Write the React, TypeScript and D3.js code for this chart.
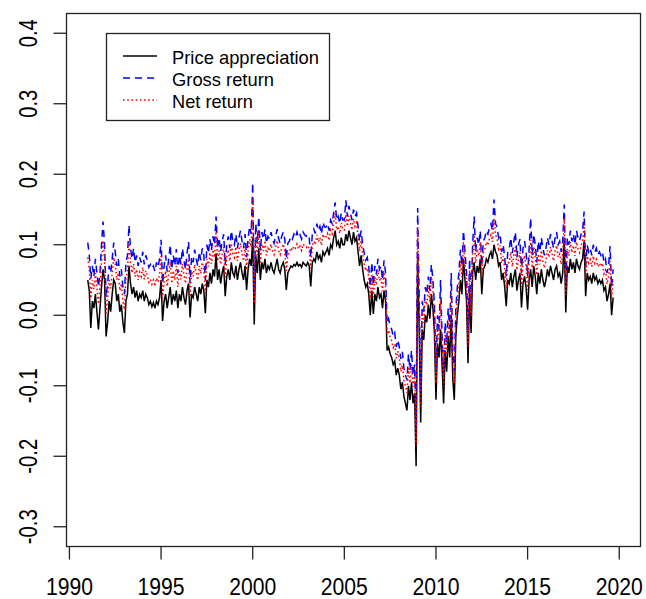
import React, { useRef, useEffect } from 'react';
import * as d3 from 'd3';

// Monthly series, Jan 1991 .. Sep 2019
const startYear = 1991;

const priceAppreciation = [
  0.050, 0.035, -0.018, 0.020, 0.010, 0.030, 0.005, -0.020, 0.010, 0.040, 0.065, 0.050,
  -0.030, -0.010, 0.020, 0.005, 0.030, 0.050, 0.045, 0.020, 0.030, 0.005, 0.015, -0.010,
  -0.025, 0.020, 0.030, 0.070, 0.045, 0.030, 0.040, 0.025, 0.035, 0.020, 0.030, 0.025,
  0.035, 0.020, 0.030, 0.025, 0.015, 0.020, 0.012, 0.018, 0.010, 0.020, 0.015, 0.025,
  0.050, -0.008, 0.020, 0.030, 0.010, 0.025, 0.040, 0.015, 0.030, 0.020, 0.035, 0.010,
  0.030, 0.020, 0.040, 0.025, 0.015, 0.035, 0.045, -0.003, 0.030, 0.025, 0.040, 0.030,
  0.020, 0.040, 0.030, 0.045, 0.035, 0.003, 0.050, 0.040, 0.060, 0.045, 0.065, 0.055,
  0.088, 0.050, 0.065, 0.045, 0.060, 0.070, 0.027, 0.055, 0.065, 0.050, 0.075, 0.060,
  0.055, 0.070, 0.050, 0.065, 0.075, 0.060, 0.050, 0.070, 0.036, 0.065, 0.080, 0.070,
  0.110, -0.013, 0.085, 0.060, 0.095, 0.050, 0.075, 0.065, 0.080, 0.060, 0.070, 0.065,
  0.075, 0.065, 0.060, 0.070, 0.080, 0.065, 0.060, 0.070, 0.075, 0.065, 0.036, 0.060,
  0.065, 0.070, 0.068, 0.072, 0.070, 0.075, 0.070, 0.072, 0.068, 0.075, 0.072, 0.070,
  0.075, 0.070, 0.041, 0.074, 0.080, 0.076, 0.090, 0.080, 0.085, 0.075, 0.090, 0.085,
  0.090, 0.095, 0.085, 0.100, 0.095, 0.110, 0.120, 0.100, 0.105, 0.095, 0.110, 0.100,
  0.100, 0.115, 0.105, 0.120, 0.110, 0.100, 0.118, 0.105, 0.110, 0.090, 0.070, 0.085,
  0.065, 0.050, 0.040, 0.045, 0.030, 0.000, 0.035, 0.002, 0.030, 0.020, 0.040, 0.025,
  0.030, 0.010, 0.035, 0.020, -0.050, -0.045, -0.055, -0.060, -0.070, -0.065, -0.085, -0.075,
  -0.085, -0.105, -0.095, -0.115, -0.125, -0.135, -0.100, -0.120, -0.095, -0.125, -0.110, -0.214,
  0.085, -0.020, -0.152, -0.020, -0.035, 0.000, -0.010, 0.015, -0.005, 0.030, 0.010, -0.025,
  -0.120, -0.040, -0.060, -0.020, -0.070, -0.125, -0.050, -0.080, -0.030, -0.060, 0.000, -0.090,
  -0.120, -0.030, 0.000, 0.020, 0.050, 0.030, 0.080, 0.050, 0.020, -0.068, 0.040, -0.025,
  0.060, 0.075, 0.050, 0.070, 0.060, 0.080, 0.030, 0.065, 0.070, 0.080, 0.075, 0.085,
  0.090, 0.080, 0.100, 0.090, 0.085, 0.070, 0.075, 0.050, 0.060, 0.040, 0.013, 0.050,
  0.045, 0.060, 0.040, 0.055, 0.065, 0.035, 0.050, 0.060, 0.011, 0.045, 0.055, 0.040,
  0.008, 0.050, 0.065, 0.040, 0.070, 0.055, 0.030, 0.060, 0.045, 0.065, 0.050, 0.040,
  0.050, 0.065, 0.055, 0.070, 0.060, 0.050, 0.065, 0.070, 0.055, 0.060, 0.045, 0.060,
  0.110, 0.004, 0.070, 0.060, 0.080, 0.065, 0.075, 0.060, 0.080, 0.070, 0.065, 0.075,
  0.080, 0.105, 0.027, 0.060, 0.050, 0.055, 0.045, 0.060, 0.050, 0.055, 0.045, 0.050,
  0.045, 0.050, 0.035, 0.040, 0.020, 0.030, 0.045, 0.000, 0.025,
];

const grossReturn = [
  0.103, 0.085, 0.052, 0.070, 0.055, 0.080, 0.060, 0.040, 0.060, 0.100, 0.133, 0.100,
  0.025, 0.045, 0.070, 0.060, 0.080, 0.103, 0.090, 0.070, 0.080, 0.055, 0.065, 0.040,
  0.030, 0.075, 0.085, 0.128, 0.095, 0.080, 0.095, 0.075, 0.085, 0.070, 0.082, 0.075,
  0.090, 0.072, 0.085, 0.078, 0.068, 0.072, 0.066, 0.070, 0.062, 0.075, 0.068, 0.080,
  0.107, 0.045, 0.070, 0.085, 0.062, 0.080, 0.100, 0.065, 0.085, 0.070, 0.094, 0.060,
  0.085, 0.072, 0.095, 0.078, 0.065, 0.088, 0.104, 0.045, 0.083, 0.075, 0.093, 0.080,
  0.070, 0.090, 0.078, 0.095, 0.085, 0.050, 0.100, 0.088, 0.108, 0.092, 0.112, 0.100,
  0.140, 0.095, 0.110, 0.090, 0.105, 0.115, 0.072, 0.100, 0.112, 0.095, 0.120, 0.105,
  0.100, 0.115, 0.095, 0.110, 0.120, 0.105, 0.095, 0.115, 0.082, 0.110, 0.126, 0.115,
  0.188, 0.030, 0.130, 0.102, 0.140, 0.092, 0.118, 0.108, 0.122, 0.102, 0.112, 0.108,
  0.118, 0.108, 0.102, 0.112, 0.122, 0.108, 0.102, 0.112, 0.118, 0.108, 0.080, 0.102,
  0.105, 0.112, 0.108, 0.115, 0.110, 0.118, 0.110, 0.114, 0.108, 0.118, 0.114, 0.112,
  0.115, 0.110, 0.082, 0.114, 0.122, 0.116, 0.130, 0.120, 0.126, 0.115, 0.132, 0.125,
  0.125, 0.130, 0.120, 0.135, 0.130, 0.145, 0.160, 0.135, 0.140, 0.130, 0.145, 0.135,
  0.135, 0.163, 0.140, 0.155, 0.145, 0.135, 0.150, 0.140, 0.145, 0.125, 0.105, 0.120,
  0.100, 0.088, 0.078, 0.082, 0.068, 0.040, 0.075, 0.042, 0.070, 0.058, 0.080, 0.065,
  0.070, 0.050, 0.078, 0.060, -0.012, -0.005, -0.015, -0.020, -0.030, -0.025, -0.045, -0.035,
  -0.045, -0.062, -0.052, -0.075, -0.085, -0.092, -0.055, -0.078, -0.050, -0.085, -0.070, -0.160,
  0.152, 0.025, -0.110, 0.020, 0.005, 0.040, 0.030, 0.055, 0.035, 0.072, 0.050, 0.015,
  -0.080, 0.000, -0.020, 0.050, -0.030, -0.085, -0.010, -0.040, 0.010, -0.020, 0.060, -0.050,
  -0.080, 0.010, 0.040, 0.060, 0.093, 0.070, 0.120, 0.090, 0.060, -0.028, 0.080, 0.015,
  0.100, 0.140, 0.090, 0.110, 0.100, 0.120, 0.070, 0.105, 0.110, 0.120, 0.115, 0.125,
  0.130, 0.120, 0.164, 0.130, 0.125, 0.110, 0.115, 0.090, 0.100, 0.082, 0.055, 0.090,
  0.095, 0.110, 0.088, 0.105, 0.118, 0.082, 0.100, 0.108, 0.060, 0.095, 0.105, 0.090,
  0.055, 0.095, 0.138, 0.085, 0.115, 0.100, 0.075, 0.105, 0.090, 0.110, 0.095, 0.085,
  0.095, 0.110, 0.100, 0.115, 0.105, 0.095, 0.110, 0.118, 0.100, 0.105, 0.090, 0.105,
  0.157, 0.045, 0.110, 0.100, 0.120, 0.105, 0.115, 0.100, 0.120, 0.110, 0.105, 0.115,
  0.120, 0.147, 0.068, 0.100, 0.090, 0.095, 0.085, 0.100, 0.090, 0.095, 0.085, 0.090,
  0.085, 0.090, 0.075, 0.080, 0.060, 0.070, 0.098, 0.040, 0.065,
];

const netReturn = [
  0.082, 0.065, 0.024, 0.050, 0.037, 0.060, 0.038, 0.016, 0.040, 0.076, 0.106, 0.080,
  0.003, 0.023, 0.050, 0.038, 0.060, 0.082, 0.072, 0.050, 0.060, 0.035, 0.045, 0.020,
  0.008, 0.053, 0.063, 0.105, 0.075, 0.060, 0.073, 0.055, 0.065, 0.050, 0.061, 0.055,
  0.068, 0.051, 0.063, 0.057, 0.047, 0.051, 0.044, 0.050, 0.041, 0.053, 0.047, 0.058,
  0.084, 0.024, 0.050, 0.063, 0.041, 0.058, 0.076, 0.045, 0.063, 0.050, 0.070, 0.040,
  0.063, 0.051, 0.073, 0.057, 0.045, 0.067, 0.080, 0.026, 0.062, 0.055, 0.072, 0.060,
  0.050, 0.070, 0.059, 0.075, 0.065, 0.031, 0.080, 0.069, 0.089, 0.073, 0.093, 0.082,
  0.119, 0.077, 0.092, 0.072, 0.087, 0.097, 0.054, 0.082, 0.093, 0.077, 0.102, 0.087,
  0.082, 0.097, 0.077, 0.092, 0.102, 0.087, 0.077, 0.097, 0.064, 0.092, 0.108, 0.097,
  0.164, 0.017, 0.112, 0.085, 0.121, 0.075, 0.101, 0.091, 0.106, 0.085, 0.095, 0.091,
  0.101, 0.091, 0.086, 0.096, 0.106, 0.091, 0.086, 0.096, 0.101, 0.091, 0.063, 0.085,
  0.090, 0.096, 0.092, 0.098, 0.095, 0.101, 0.094, 0.098, 0.092, 0.101, 0.098, 0.096,
  0.099, 0.094, 0.066, 0.098, 0.105, 0.100, 0.114, 0.104, 0.110, 0.099, 0.115, 0.109,
  0.111, 0.116, 0.106, 0.121, 0.116, 0.131, 0.144, 0.121, 0.126, 0.116, 0.131, 0.121,
  0.121, 0.143, 0.126, 0.141, 0.131, 0.121, 0.137, 0.126, 0.131, 0.111, 0.091, 0.106,
  0.086, 0.073, 0.063, 0.067, 0.053, 0.024, 0.059, 0.026, 0.054, 0.043, 0.064, 0.049,
  0.054, 0.034, 0.061, 0.044, -0.027, -0.021, -0.031, -0.036, -0.046, -0.041, -0.061, -0.051,
  -0.061, -0.080, -0.071, -0.092, -0.101, -0.110, -0.075, -0.096, -0.070, -0.101, -0.086, -0.185,
  0.125, 0.007, -0.130, 0.004, -0.011, 0.024, 0.014, 0.039, 0.019, 0.055, 0.034, -0.001,
  -0.096, -0.016, -0.036, 0.022, -0.046, -0.101, -0.026, -0.056, -0.006, -0.036, 0.036, -0.066,
  -0.096, -0.006, 0.024, 0.044, 0.076, 0.054, 0.104, 0.074, 0.044, -0.044, 0.064, -0.001,
  0.084, 0.114, 0.074, 0.094, 0.084, 0.104, 0.054, 0.089, 0.094, 0.104, 0.099, 0.109,
  0.114, 0.104, 0.138, 0.114, 0.109, 0.094, 0.099, 0.074, 0.084, 0.065, 0.038, 0.074,
  0.075, 0.090, 0.069, 0.085, 0.097, 0.064, 0.080, 0.089, 0.040, 0.075, 0.085, 0.070,
  0.036, 0.077, 0.107, 0.067, 0.097, 0.082, 0.057, 0.087, 0.072, 0.092, 0.077, 0.067,
  0.077, 0.092, 0.082, 0.097, 0.087, 0.077, 0.092, 0.099, 0.082, 0.087, 0.072, 0.087,
  0.138, 0.029, 0.094, 0.084, 0.104, 0.089, 0.099, 0.084, 0.104, 0.094, 0.089, 0.099,
  0.104, 0.130, 0.052, 0.084, 0.074, 0.079, 0.069, 0.084, 0.074, 0.079, 0.069, 0.074,
  0.069, 0.074, 0.059, 0.064, 0.044, 0.054, 0.077, 0.024, 0.049,
];

const xTicks = [1990, 1995, 2000, 2005, 2010, 2015, 2020];
const yTicks = [-0.3, -0.2, -0.1, 0.0, 0.1, 0.2, 0.3, 0.4];
const yTickLabels = ['-0.3', '-0.2', '-0.1', '0.0', '0.1', '0.2', '0.3', '0.4'];

const legendLabels = ['Price appreciation', 'Gross return', 'Net return'];
const legendWidths = [147, 102, 81];

const series = [
  { values: priceAppreciation, color: '#000000', dash: null },
  { values: grossReturn, color: '#0000FF', dash: '7,5' },
  { values: netReturn, color: '#FF0000', dash: '1.6,2.6' },
];

export default function App() {
  const svgRef = useRef<SVGSVGElement>(null);

  useEffect(() => {
    if (!svgRef.current) return;
    const width = 646;
    const height = 599;
    const box = { left: 66.5, right: 640.5, top: 13.5, bottom: 546.5 };

    const svg = d3.select(svgRef.current)
      .attr('width', width)
      .attr('height', height)
      .attr('viewBox', `0 0 ${width} ${height}`);
    svg.selectAll('*').remove();

    // R style 4% axis extension
    const xLim = [1991, 2020];
    const yLim = [-0.3, 0.4];
    const xPad = (xLim[1] - xLim[0]) * 0.04;
    const yPad = (yLim[1] - yLim[0]) * 0.04;

    const x = d3.scaleLinear()
      .domain([xLim[0] - xPad, xLim[1] + xPad])
      .range([box.left, box.right]);
    const y = d3.scaleLinear()
      .domain([yLim[0] - yPad, yLim[1] + yPad])
      .range([box.bottom, box.top]);

    const font = 'Liberation Sans, Arial, sans-serif';

    // lines
    series.forEach(s => {
      const line = d3.line<number>()
        .x((_, i) => x(startYear + i / 12))
        .y(d => y(d));
      svg.append('path')
        .datum(s.values)
        .attr('fill', 'none')
        .attr('stroke', s.color)
        .attr('stroke-width', 1.5)
        .attr('stroke-dasharray', s.dash)
        .attr('d', line);
    });

    // plot box
    svg.append('rect')
      .attr('x', box.left)
      .attr('y', box.top)
      .attr('width', box.right - box.left)
      .attr('height', box.bottom - box.top)
      .attr('fill', 'none')
      .attr('stroke', '#222')
      .attr('stroke-width', 1.3);

    // x axis
    const xAxis = svg.append('g');
    xAxis.selectAll('line')
      .data(xTicks)
      .join('line')
      .attr('x1', d => x(d)).attr('x2', d => x(d))
      .attr('y1', box.bottom).attr('y2', box.bottom + 13)
      .attr('stroke', '#222').attr('stroke-width', 1.3);
    xAxis.selectAll('text')
      .data(xTicks)
      .join('text')
      .attr('x', d => x(d))
      .attr('y', 595)
      .attr('text-anchor', 'middle')
      .attr('font-family', font)
      .attr('font-size', 23)
      .attr('textLength', 47)
      .attr('lengthAdjust', 'spacingAndGlyphs')
      .attr('fill', '#000')
      .text(d => String(d));

    // y axis
    const yAxis = svg.append('g');
    yAxis.selectAll('line')
      .data(yTicks)
      .join('line')
      .attr('x1', box.left - 13).attr('x2', box.left)
      .attr('y1', d => y(d)).attr('y2', d => y(d))
      .attr('stroke', '#222').attr('stroke-width', 1.3);
    yAxis.selectAll('text')
      .data(yTicks)
      .join('text')
      .attr('transform', d => `translate(36.5,${y(d)}) rotate(-90)`)
      .attr('text-anchor', 'middle')
      .attr('font-family', font)
      .attr('font-size', 25)
      .attr('textLength', (_, i) => (yTickLabels[i].startsWith('-') ? 35 : 28))
      .attr('lengthAdjust', 'spacingAndGlyphs')
      .attr('fill', '#000')
      .text((_, i) => yTickLabels[i]);

    // legend
    const lg = svg.append('g');
    lg.append('rect')
      .attr('x', 106.5).attr('y', 33.5)
      .attr('width', 223).attr('height', 87)
      .attr('fill', 'white')
      .attr('stroke', '#222').attr('stroke-width', 1.3);
    series.forEach((s, i) => {
      const cy = 56 + i * 22;
      lg.append('line')
        .attr('x1', 123).attr('x2', 157)
        .attr('y1', cy).attr('y2', cy)
        .attr('stroke', s.color)
        .attr('stroke-width', 1.3)
        .attr('stroke-dasharray', s.dash);
      lg.append('text')
        .attr('x', 172)
        .attr('y', cy + 7.5)
        .attr('font-family', font)
        .attr('font-size', 19)
        .attr('textLength', legendWidths[i])
        .attr('lengthAdjust', 'spacingAndGlyphs')
        .attr('fill', '#000')
        .text(legendLabels[i]);
    });
  }, []);

  return (
    <svg
      ref={svgRef}
      style={{ position: 'absolute', left: 0, top: 0, background: 'white' }}
    />
  );
}
